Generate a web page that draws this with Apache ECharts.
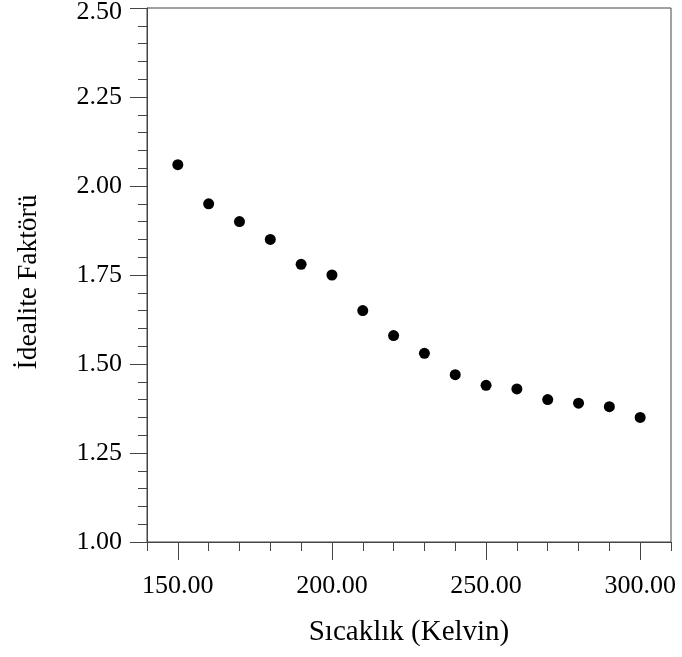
<!DOCTYPE html>
<html>
<head>
<meta charset="utf-8">
<script src="https://cdn.jsdelivr.net/npm/echarts@6/dist/echarts.min.js"></script>
<style>
  html, body { margin: 0; padding: 0; background: #fff; }
  #chart { width: 682px; height: 657px; }
</style>
</head>
<body>
<div id="chart"></div>
<script>
// Temperature (K) and ideality factor measured at each step
const temperatures = [150, 160, 170, 180, 190, 200, 210, 220, 230, 240, 250, 260, 270, 280, 290, 300];
const idealityFactors = [2.06, 1.95, 1.90, 1.85, 1.78, 1.75, 1.65, 1.58, 1.53, 1.47, 1.44, 1.43, 1.40, 1.39, 1.38, 1.35];

// Labelled (long) ticks on the temperature axis
const xMajorTicks = [150, 200, 250, 300];

const X_MIN = 140, X_MAX = 310, X_STEP = 10;
const Y_MIN = 1, Y_MAX = 2.5, Y_STEP = 0.25;
const FONT = '"Liberation Serif", "Times New Roman", serif';
const AXIS_COLOR = '#444';

// Every 10 K position along the temperature axis, used for the long-tick layer
const xTickSlots = [];
for (let v = X_MIN; v <= X_MAX; v += X_STEP) xTickSlots.push(String(v));

const chart = echarts.init(document.getElementById('chart'), null, { renderer: 'canvas' });

chart.setOption({
  animation: false,
  backgroundColor: '#fff',
  grid: {
    left: 147, right: 11, top: 8, bottom: 115,
    outerBoundsMode: 'none',
    containLabel: false,
    show: true, borderColor: AXIS_COLOR, borderWidth: 1, backgroundColor: 'transparent'
  },
  xAxis: [
    {
      type: 'value', min: X_MIN, max: X_MAX, interval: X_STEP,
      name: 'Sıcaklık (Kelvin)', nameLocation: 'middle', nameGap: 76,
      nameTextStyle: { fontFamily: FONT, fontSize: 29, color: '#000' },
      axisLine: { show: true, lineStyle: { color: AXIS_COLOR, width: 1 } },
      axisTick: { show: true, inside: false, length: 9, lineStyle: { color: AXIS_COLOR } },
      axisLabel: {
        interval: 0, margin: 31, fontFamily: FONT, fontSize: 26, color: '#000',
        formatter: v => (xMajorTicks.indexOf(v) >= 0 ? v.toFixed(2) : '')
      },
      splitLine: { show: false }
    },
    {
      // long ticks at the labelled temperatures
      type: 'category', data: xTickSlots, boundaryGap: false, position: 'bottom',
      axisLine: { show: false },
      axisTick: {
        show: true, inside: false, length: 18, lineStyle: { color: AXIS_COLOR },
        interval: (idx, val) => xMajorTicks.indexOf(Number(val)) >= 0
      },
      axisLabel: { show: false },
      splitLine: { show: false }
    }
  ],
  yAxis: {
    type: 'value', min: Y_MIN, max: Y_MAX, interval: Y_STEP,
    name: 'İdealite Faktörü', nameLocation: 'middle', nameGap: 104,
    nameTextStyle: { fontFamily: FONT, fontSize: 27.5, color: '#000', padding: [0, 14, 0, 0] },
    axisLine: { show: true, lineStyle: { color: AXIS_COLOR, width: 1 } },
    axisTick: { show: true, inside: false, length: 17, lineStyle: { color: AXIS_COLOR } },
    minorTick: { show: true, splitNumber: 5, length: 9, lineStyle: { color: AXIS_COLOR } },
    axisLabel: {
      margin: 25, fontFamily: FONT, fontSize: 26, color: '#000',
      // the top label sits a little below its tick so it stays inside the canvas
      formatter: v => (v === Y_MAX ? '{top|' + v.toFixed(2) + '}' : v.toFixed(2)),
      rich: { top: { fontFamily: FONT, fontSize: 26, color: '#000', padding: [8, 0, 0, 0] } }
    },
    splitLine: { show: false },
    minorSplitLine: { show: false }
  },
  series: [{
    type: 'scatter',
    xAxisIndex: 0,
    data: temperatures.map((t, i) => [t, idealityFactors[i]]),
    symbol: 'circle',
    symbolSize: 11,
    itemStyle: { color: '#000', opacity: 1 }
  }]
});
</script>
</body>
</html>
